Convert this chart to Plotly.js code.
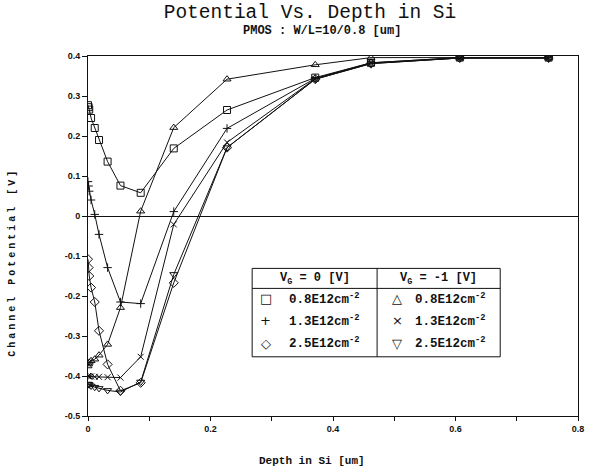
<!DOCTYPE html>
<html>
<head>
<meta charset="utf-8">
<script src="https://cdn.plot.ly/plotly-3.0.1.min.js"></script>
<style>
  html, body { margin: 0; padding: 0; background: #fff; }
  #chart { width: 609px; height: 468px; }
</style>
</head>
<body>
<div id="chart"></div>
<script>
// Depth grid of the simulation nodes [um]
const depth = [0, 0.001, 0.002, 0.005, 0.011, 0.018, 0.032, 0.053, 0.086, 0.14, 0.227, 0.371, 0.462, 0.607, 0.752];

// Channel potential [V], VG = 0 V
const vg0_08 = [0.277, 0.272, 0.266, 0.245, 0.22, 0.19, 0.136, 0.076, 0.058, 0.169, 0.265, 0.346, 0.383, 0.396, 0.396];
const vg0_13 = [0.086, 0.075, 0.062, 0.04, 0.004, -0.046, -0.129, -0.215, -0.219, 0.011, 0.219, 0.344, 0.383, 0.396, 0.396];
const vg0_25 = [-0.108, -0.129, -0.15, -0.179, -0.215, -0.287, -0.371, -0.437, -0.417, -0.167, 0.171, 0.342, 0.381, 0.395, 0.395];

// Channel potential [V], VG = -1 V
const vgm1_08 = [-0.375, -0.37, -0.366, -0.362, -0.358, -0.348, -0.321, -0.229, 0.012, 0.221, 0.342, 0.378, 0.396, 0.396, 0.396];
const vgm1_13 = [-0.4, -0.4, -0.401, -0.401, -0.402, -0.402, -0.403, -0.404, -0.352, -0.021, 0.184, 0.343, 0.382, 0.395, 0.395];
const vgm1_25 = [-0.42, -0.421, -0.422, -0.425, -0.428, -0.431, -0.436, -0.44, -0.415, -0.146, 0.171, 0.342, 0.381, 0.395, 0.395];

// Axis ticks
const xTickVals = [0, 0.2, 0.4, 0.6, 0.8];
const xTickText = ['0', '0.2', '0.4', '0.6', '0.8'];
const xMinorVals = [0.1, 0.3, 0.5, 0.7];
const yTickVals = [0.4, 0.3, 0.2, 0.1, 0, -0.1, -0.2, -0.3, -0.4, -0.5];
const yTickText = ['0.4', '0.3', '0.2', '0.1', '0', '-0.1', '-0.2', '-0.3', '-0.4', '-0.5'];

// Legend table entries
const dopings = ['0.8E12cm<sup>-2</sup>', '1.3E12cm<sup>-2</sup>', '2.5E12cm<sup>-2</sup>'];
const vg0Symbols = ['\u25A1', '+', '\u25C7'];
const vgm1Symbols = ['\u25B3', '\u00D7', '\u25BD'];

const mono = 'Liberation Mono, Courier New, monospace';
const ink = '#111';
const yTitle = 'Channel Potential [V]';

function series(y, symbol, size) {
  return {
    x: depth, y: y, type: 'scatter', mode: 'lines+markers',
    line: { color: ink, width: 1 },
    marker: { symbol: symbol, size: size, color: ink, line: { color: ink, width: 1 } },
    showlegend: false, hoverinfo: 'skip'
  };
}

const traces = [
  series(vg0_08, 'square-open', 7),
  series(vg0_13, 'cross-thin-open', 6),
  series(vg0_25, 'diamond-open', 7),
  series(vgm1_08, 'triangle-up-open', 7),
  series(vgm1_13, 'x-thin-open', 6),
  series(vgm1_25, 'triangle-down-open', 7)
];

// Legend table frame (data coordinates)
const box = { x0: 0.268, x1: 0.673, xm: 0.472, y0: -0.352, y1: -0.131, yh: -0.181 };
const rowY = [-0.207, -0.262, -0.318];

const shapes = [
  { type: 'rect', xref: 'x', yref: 'y', x0: box.x0, x1: box.x1, y0: box.y0, y1: box.y1,
    line: { color: ink, width: 1 }, fillcolor: 'white', layer: 'above' },
  { type: 'line', xref: 'x', yref: 'y', x0: box.x0, x1: box.x1, y0: box.yh, y1: box.yh,
    line: { color: ink, width: 1 }, layer: 'above' },
  { type: 'line', xref: 'x', yref: 'y', x0: box.xm, x1: box.xm, y0: box.y0, y1: box.y1,
    line: { color: ink, width: 1 }, layer: 'above' }
];

const legendFont = { family: mono, size: 12.5, color: ink, weight: 'bold' };
const headFont = { family: mono, size: 12, color: ink, weight: 'bold' };
const annotations = [
  { text: 'PMOS : W/L=10/0.8 [um]', xref: 'paper', yref: 'paper', x: 0.478, y: 1.07,
    showarrow: false, xanchor: 'center', yanchor: 'middle',
    font: { family: mono, size: 12, color: ink, weight: 'bold' } },
  { text: yTitle, xref: 'paper', yref: 'paper', x: -0.154, y: 0.426,
    textangle: -90, showarrow: false, xanchor: 'center', yanchor: 'middle',
    font: { family: mono, size: 10, color: ink, weight: 'bold' } },
  { text: 'Depth in Si [um]', xref: 'paper', yref: 'paper', x: 0.457, y: -0.125,
    showarrow: false, xanchor: 'center', yanchor: 'middle',
    font: { family: mono, size: 11, color: ink, weight: 'bold' } },
  { text: 'V<sub>G</sub> = 0 [V]', xref: 'x', yref: 'y', x: (box.x0 + box.xm) / 2, y: -0.158,
    showarrow: false, xanchor: 'center', yanchor: 'middle', font: headFont },
  { text: 'V<sub>G</sub> = -1 [V]', xref: 'x', yref: 'y', x: (box.xm + box.x1) / 2, y: -0.158,
    showarrow: false, xanchor: 'center', yanchor: 'middle', font: headFont }
];

dopings.forEach(function (d, i) {
  annotations.push(
    { text: vg0Symbols[i], xref: 'x', yref: 'y', x: 0.29, y: rowY[i], showarrow: false,
      xanchor: 'center', yanchor: 'middle', font: { family: 'DejaVu Sans', size: 13, color: ink } },
    { text: d, xref: 'x', yref: 'y', x: 0.325, y: rowY[i], showarrow: false,
      xanchor: 'left', yanchor: 'middle', font: legendFont },
    { text: vgm1Symbols[i], xref: 'x', yref: 'y', x: 0.505, y: rowY[i], showarrow: false,
      xanchor: 'center', yanchor: 'middle', font: { family: 'DejaVu Sans', size: 13, color: ink } },
    { text: d, xref: 'x', yref: 'y', x: 0.53, y: rowY[i], showarrow: false,
      xanchor: 'left', yanchor: 'middle', font: legendFont }
  );
});

const tickFont = { family: 'Liberation Sans, Arial, sans-serif', size: 9, color: ink, weight: 'bold' };

const layout = {
  width: 609, height: 468,
  margin: { l: 88, r: 31, t: 56, b: 52 },
  paper_bgcolor: 'white', plot_bgcolor: 'white',
  title: {
    text: 'Potential Vs. Depth in Si',
    x: 0.509, xanchor: 'center', y: 0.976, yanchor: 'middle',
    font: { family: mono, size: 19.5, color: ink }
  },
  xaxis: {
    range: [0, 0.8], tickmode: 'array', tickvals: xTickVals, ticktext: xTickText,
    ticks: 'outside', ticklen: 4, tickcolor: ink, tickfont: tickFont,
    minor: { tickmode: 'array', tickvals: xMinorVals, ticks: 'outside', ticklen: 4, tickcolor: ink, showgrid: false },
    showline: true, linecolor: ink, linewidth: 1, mirror: true,
    showgrid: false, zeroline: false
  },
  yaxis: {
    range: [-0.5, 0.4], tickmode: 'array', tickvals: yTickVals, ticktext: yTickText,
    ticks: 'outside', ticklen: 5, tickcolor: ink, tickfont: tickFont,
    showline: true, linecolor: ink, linewidth: 1, mirror: true,
    showgrid: false, zeroline: true, zerolinecolor: ink, zerolinewidth: 1
  },
  shapes: shapes,
  annotations: annotations,
  showlegend: false
};

Plotly.newPlot('chart', traces, layout, { displayModeBar: false, staticPlot: true }).then(function (gd) {
  // widen the letter spacing of the vertical axis caption
  gd.querySelectorAll('text.annotation-text').forEach(function (t) {
    if (t.textContent === yTitle) t.style.letterSpacing = '3px';
  });
});
</script>
</body>
</html>
